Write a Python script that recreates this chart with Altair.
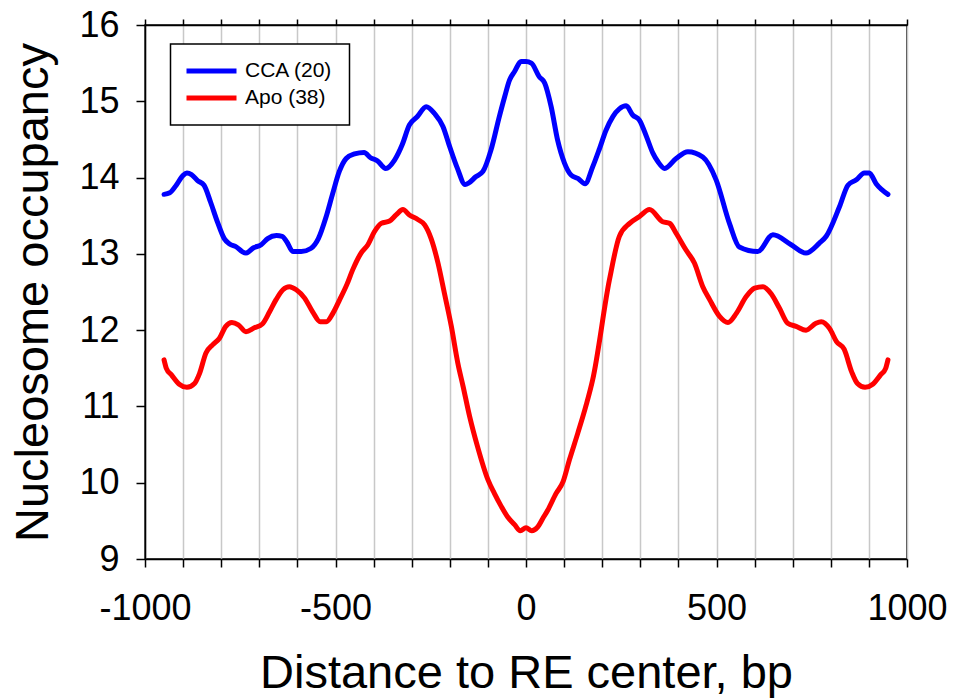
import altair as alt
import pandas as pd

# ---- data ----
series_names = ["CCA (20)", "Apo (38)"]
series_colors = ["#0000ff", "#ff0000"]

cca_x = [-950, -935, -918, -900, -890, -878, -862, -845, -828, -810, -792, -778, -760, -745, -735,
         -715, -695, -678, -655, -640, -628, -612, -590, -565, -545, -525, -508, -490, -472, -450,
         -425, -408, -390, -368, -345, -325, -306, -285, -262, -240, -218, -200, -180, -160, -150,
         -132, -113, -92, -70, -56, -43, -30, -13, 0, 14, 35, 49, 66, 83, 101, 119, 136, 155, 175,
         193, 210, 228, 245, 263, 280, 298, 316, 333, 346, 364, 394, 425, 464, 499, 534, 560, 608,
         648, 696, 735, 770, 788, 823, 845, 867, 888, 901, 919, 950]
cca_y = [13.78, 13.80, 13.90, 14.03, 14.06, 14.04, 13.96, 13.90, 13.68, 13.42, 13.20, 13.13, 13.09,
         13.03, 13.01, 13.08, 13.12, 13.20, 13.24, 13.23, 13.16, 13.03, 13.03, 13.07, 13.20, 13.48,
         13.78, 14.08, 14.25, 14.31, 14.33, 14.26, 14.22, 14.12, 14.23, 14.43, 14.69, 14.80, 14.93,
         14.84, 14.67, 14.40, 14.12, 13.91, 13.93, 14.01, 14.08, 14.36, 14.80, 15.06, 15.28, 15.39,
         15.52, 15.52, 15.50, 15.32, 15.24, 14.93, 14.49, 14.19, 14.03, 13.99, 13.92, 14.14, 14.38,
         14.62, 14.80, 14.90, 14.94, 14.82, 14.75, 14.54, 14.32, 14.21, 14.12, 14.25, 14.34, 14.27,
         13.97, 13.40, 13.09, 13.03, 13.25, 13.12, 13.01, 13.14, 13.23, 13.62, 13.90, 13.97, 14.06,
         14.06, 13.92, 13.78]

apo_x = [-950, -944, -930, -910, -890, -870, -857, -840, -822, -805, -788, -772, -755, -735, -713,
         -692, -673, -656, -638, -621, -603, -581, -560, -540, -524, -507, -489, -470, -455, -433,
         -415, -398, -380, -358, -341, -323, -306, -284, -266, -249, -231, -214, -196, -179, -165,
         -148, -127, -100, -83, -65, -48, -30, -15, 0, 15, 31, 44, 57, 79, 97, 114, 136, 158, 175,
         219, 245, 272, 298, 324, 359, 377, 394, 420, 442, 464, 482, 508, 530, 552, 578, 600, 622,
         643, 665, 687, 709, 735, 761, 775, 797, 815, 835, 855, 870, 890, 910, 930, 944, 950]
apo_y = [11.61, 11.50, 11.41, 11.29, 11.25, 11.30, 11.43, 11.70, 11.81, 11.89, 12.05, 12.10, 12.07,
         11.98, 12.03, 12.08, 12.24, 12.40, 12.53, 12.57, 12.53, 12.42, 12.24, 12.11, 12.11, 12.22,
         12.40, 12.60, 12.79, 13.01, 13.12, 13.29, 13.40, 13.43, 13.51, 13.58, 13.51, 13.45, 13.38,
         13.20, 12.88, 12.48, 12.05, 11.57, 11.26, 10.87, 10.47, 10.04, 9.86, 9.69, 9.55, 9.45, 9.37,
         9.41, 9.37, 9.42, 9.53, 9.64, 9.86, 10.01, 10.30, 10.65, 11.02, 11.35, 12.66, 13.23, 13.40,
         13.49, 13.58, 13.42, 13.40, 13.27, 13.05, 12.88, 12.57, 12.40, 12.18, 12.10, 12.22, 12.44,
         12.55, 12.57, 12.48, 12.29, 12.09, 12.05, 12.00, 12.09, 12.11, 12.02, 11.85, 11.75, 11.45,
         11.30, 11.25, 11.29, 11.41, 11.50, 11.61]

x_ticks = list(range(-1000, 1001, 100))
y_ticks = list(range(9, 17))

rows = []
for xs, ys, name in [(cca_x, cca_y, series_names[0]), (apo_x, apo_y, series_names[1])]:
    for i, (xv, yv) in enumerate(zip(xs, ys)):
        rows.append({"x": xv, "y": yv, "series": name, "i": i})
df = pd.DataFrame(rows)

FONT = "Liberation Sans"
W, H = 762, 534
TICK_FS = 36
TITLE_FS = 47

xscale = alt.Scale(domain=[-1000, 1000], nice=False, zero=False)
yscale = alt.Scale(domain=[9, 16], nice=False, zero=False)

lines = alt.Chart(df).mark_line(
    strokeWidth=5, interpolate="monotone", strokeCap="round", strokeJoin="round"
).encode(
    x=alt.X("x:Q", scale=xscale, axis=alt.Axis(
        orient="bottom", values=x_ticks,
        labelExpr="datum.value % 500 == 0 ? '' + datum.value : ''",
        labelFlush=False, labelOverlap=False,
        labelFont=FONT, labelFontSize=TICK_FS, labelColor="black", labelPadding=24,
        tickSize=8, tickColor="black", tickWidth=1.5,
        domainColor="black", domainWidth=1.5,
        grid=True, gridColor="#c8c8c8", gridWidth=1.5,
        title="Distance to RE center, bp", titleFont=FONT, titleFontSize=TITLE_FS,
        titleFontWeight="normal", titleColor="black", titleBaseline="alphabetic",
        titleX=W / 2, titleY=128)),
    y=alt.Y("y:Q", scale=yscale, axis=alt.Axis(
        orient="left", values=y_ticks, format="d",
        labelFlush=False, labelOverlap=False,
        labelFont=FONT, labelFontSize=TICK_FS, labelColor="black", labelPadding=17,
        tickSize=9, tickColor="black", tickWidth=1.5,
        domainColor="black", domainWidth=1.5, grid=False,
        title="Nucleosome occupancy", titleFont=FONT, titleFontSize=TITLE_FS,
        titleFontWeight="normal", titleColor="black", titleBaseline="alphabetic",
        titleAngle=270, titleX=-97.5, titleY=H / 2)),
    color=alt.Color("series:N", scale=alt.Scale(domain=series_names, range=series_colors),
                    legend=alt.Legend(
                        title=None, orient="none", legendX=25.5, legendY=19, direction="vertical",
                        symbolType="stroke", symbolSize=2916, symbolStrokeWidth=5,
                        labelFont=FONT, labelFontSize=21, labelColor="black",
                        padding=16, clipHeight=22, rowPadding=5, symbolOffset=-6.5,
                        labelOffset=6,
                        strokeColor="black", fillColor="white")),
    detail="series:N",
    order="i:Q",
)

top = alt.Chart(df).mark_point(opacity=0).encode(
    x=alt.X("x:Q", scale=xscale, axis=alt.Axis(
        orient="top", values=x_ticks, labels=False, title=None, grid=False,
        tickSize=6, tickColor="black", tickWidth=1.5,
        domainColor="black", domainWidth=1.5)),
    y=alt.Y("y:Q", scale=yscale, axis=None),
)

chart = alt.layer(lines, top).resolve_axis(x="independent", y="independent").properties(
    width=W, height=H, autosize="none",
    padding={"left": 145, "top": 25, "right": 48, "bottom": 140},
    background="white",
).configure_view(stroke="black", strokeWidth=1.5).configure_legend(strokeWidth=1.5)

chart.save("out.html", embed_options={"renderer": "svg", "actions": False})
